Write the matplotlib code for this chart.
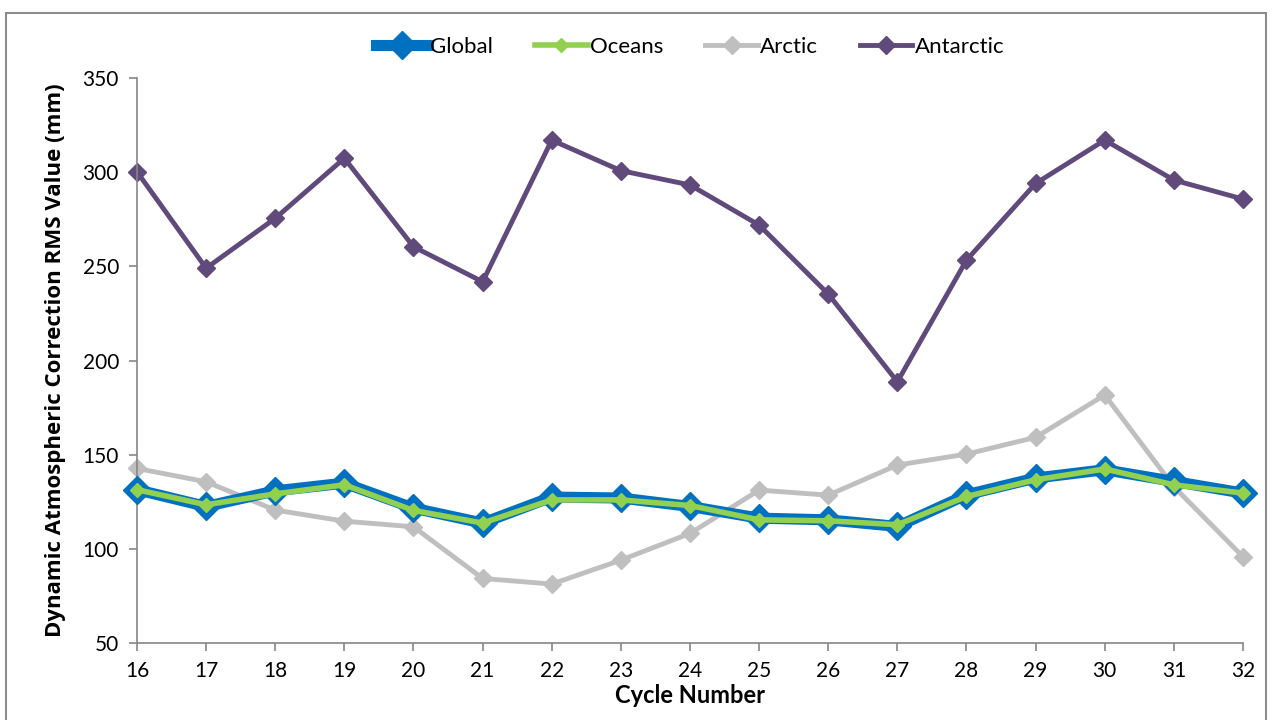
import matplotlib
matplotlib.use("Agg")
import matplotlib.pyplot as plt
from matplotlib.patches import Rectangle

cycles = list(range(16, 33))
global_rms = [131.4, 122.5, 130.8, 134.9, 121.6, 113.7, 127.5, 127.0, 122.5,
              116.3, 115.4, 111.9, 128.7, 137.6, 142.0, 135.8, 129.6]
oceans_rms = [131.4, 123.4, 129.2, 134.0, 120.4, 113.7, 126.0, 126.0, 123.0,
              115.4, 114.9, 112.8, 127.8, 136.7, 142.4, 134.0, 129.6]
arctic_rms = [142.7, 135.6, 120.6, 114.7, 111.7, 84.3, 81.3, 94.0, 108.2,
              131.2, 128.5, 144.5, 150.3, 159.2, 181.7, 133.0, 95.8]
antarctic_rms = [300.2, 249.0, 275.5, 307.4, 260.4, 241.8, 317.0, 300.8, 293.2,
                 271.9, 235.3, 188.7, 253.3, 294.0, 317.0, 295.8, 285.7]
y_ticks = [50, 100, 150, 200, 250, 300, 350]

narrow = ["Lato", "DejaVu Sans"]

fig = plt.figure(figsize=(12.72, 7.2), dpi=100)
ax = fig.add_axes([0.1077, 0.1069, 0.9772 - 0.1077, 0.8917 - 0.1069])

# outer chart-area border
fig.add_artist(Rectangle((0.0047, -0.01), 0.9906, 0.9924, transform=fig.transFigure,
                         fill=False, ec="#8c8c8c", lw=1.5))

ax.plot(cycles, global_rms, color="#0070C0", lw=8, marker="D", ms=14,
        label="Global", clip_on=False, zorder=3)
ax.plot(cycles, oceans_rms, color="#92D050", lw=4, marker="D", ms=7,
        label="Oceans", clip_on=False, zorder=4)
ax.plot(cycles, arctic_rms, color="#BFBFBF", lw=3.5, marker="D", ms=9,
        label="Arctic", clip_on=False, zorder=2)
ax.plot(cycles, antarctic_rms, color="#604A7B", lw=3.5, marker="D", ms=9,
        label="Antarctic", clip_on=False, zorder=2)

ax.set_xlim(16, 32)
ax.set_ylim(50, 350)
ax.set_xticks(cycles)
ax.set_yticks(y_ticks)
for s in ["top", "right"]:
    ax.spines[s].set_visible(False)
for s in ["left", "bottom"]:
    ax.spines[s].set_color("#868686")
    ax.spines[s].set_linewidth(1.2)
ax.tick_params(direction="out", length=6, width=1.2, color="#868686",
               labelsize=15, pad=7)
for lab in ax.get_xticklabels() + ax.get_yticklabels():
    lab.set_family(narrow)

ax.set_xlabel("Cycle Number", fontsize=17, fontweight="bold", family=narrow, labelpad=2)
ax.set_ylabel("Dynamic Atmospheric Correction RMS Value (mm)", fontsize=16,
              fontweight="bold", family=["Open Sans", "DejaVu Sans"], labelpad=12)

leg = ax.legend(loc="center", bbox_to_anchor=(0.5, 1.0 + 31 / 565), ncol=4,
                frameon=False, prop={"family": narrow, "size": 16},
                handlelength=2.35, handletextpad=0.1, columnspacing=1.9)

fig.savefig("out.png", dpi=100)
